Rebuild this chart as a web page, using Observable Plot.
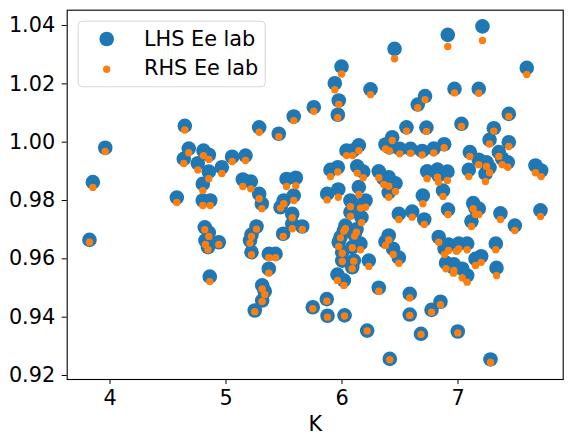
<!DOCTYPE html>
<html><head><meta charset="utf-8">
<script src="https://cdn.jsdelivr.net/npm/d3@7"></script>
<script src="https://cdn.jsdelivr.net/npm/@observablehq/plot@0.6"></script>
<style>
body{margin:0;background:#fff;}
#wrap{position:relative;width:572px;height:444px;font-family:"DejaVu Sans",sans-serif;}
</style></head><body><div id="wrap"></div>
<script>
const K=[3.852,3.823,3.959,4.645,4.576,4.679,4.636,4.806,4.852,4.757,
4.852,4.964,5.053,5.168,4.800,4.800,4.864,5.145,5.214,4.817,
4.823,4.852,4.938,4.845,5.286,5.220,5.207,5.220,5.263,5.455,
5.584,5.757,5.522,5.602,5.584,5.498,5.470,5.571,5.571,5.657,
5.286,5.309,5.493,5.369,5.427,5.369,4.860,5.312,5.334,5.312,
5.248,5.748,5.869,5.875,5.901,5.964,5.872,5.968,6.453,5.996,
5.938,6.246,5.972,5.964,6.716,6.653,6.556,6.728,6.433,6.375,
6.409,6.498,6.591,6.691,6.791,6.881,6.145,6.039,6.093,6.131,
6.183,6.317,6.403,6.360,6.461,6.403,6.734,6.823,6.832,6.909,
6.871,6.697,6.914,6.145,6.203,6.073,6.159,6.073,6.168,6.490,
6.605,6.709,6.030,6.016,5.987,6.108,6.125,6.159,5.972,6.088,
6.002,6.002,6.102,6.088,6.231,6.403,6.375,6.441,6.490,5.961,
6.016,6.317,6.584,6.022,6.217,6.584,6.681,6.412,6.772,6.849,
6.834,6.884,6.918,6.897,6.912,7.211,7.593,6.970,7.179,7.438,
7.030,7.309,7.272,7.438,7.102,7.352,7.179,7.246,7.381,7.429,
7.093,7.237,7.272,7.668,7.717,7.131,7.179,7.151,7.116,7.366,
7.490,7.711,7.007,6.987,7.079,7.326,7.151,7.200,6.964,6.961,
7.036,7.079,7.332,6.998,7.280];
const LHS=[0.9863,0.9665,0.9981,1.0056,0.9810,0.9978,0.9943,0.9971,0.9957,0.9928,
0.9899,0.9914,0.9950,0.9954,0.9857,0.9800,0.9800,0.9872,0.9865,0.9708,
0.9663,0.9690,0.9657,0.9640,1.0051,0.9683,0.9663,0.9623,0.9711,1.0029,
1.0088,1.0120,0.9874,0.9878,0.9817,0.9800,0.9777,0.9754,0.9720,0.9711,
0.9823,0.9789,0.9686,0.9617,0.9617,0.9566,0.9539,0.9509,0.9489,0.9457,
0.9423,0.9434,0.9462,0.9405,0.9905,0.9914,0.9823,0.9838,1.0320,1.0259,
1.0202,1.0181,1.0143,1.0094,1.0158,1.0129,1.0051,1.0050,1.0017,0.9992,
0.9982,0.9977,0.9977,0.9970,0.9978,0.9993,0.9989,0.9971,0.9971,0.9917,
0.9899,0.9900,0.9880,0.9875,0.9859,0.9828,0.9900,0.9906,0.9886,0.9899,
0.9834,0.9817,0.9769,0.9846,0.9800,0.9800,0.9783,0.9760,0.9742,0.9754,
0.9762,0.9735,0.9714,0.9697,0.9674,0.9683,0.9701,0.9652,0.9657,0.9640,
0.9623,0.9594,0.9594,0.9571,0.9594,0.9680,0.9659,0.9634,0.9604,0.9546,
0.9526,0.9501,0.9480,0.9406,0.9354,0.9409,0.9343,0.9257,0.9425,0.9453,
0.9675,0.9635,0.9649,0.9586,1.0368,1.0397,1.0255,1.0183,1.0183,1.0097,
1.0063,1.0048,1.0008,1.0000,0.9966,0.9966,0.9940,0.9931,0.9944,0.9931,
0.9905,0.9892,0.9913,0.9920,0.9903,0.9791,0.9772,0.9773,0.9729,0.9756,
0.9714,0.9766,0.9652,0.9646,0.9652,0.9652,0.9600,0.9609,0.9581,0.9570,
0.9566,0.9543,0.9569,0.9351,0.9255];
const RHS=[0.9845,0.9657,0.9968,1.0042,0.9793,0.9964,0.9927,0.9954,0.9941,0.9905,
0.9875,0.9893,0.9934,0.9937,0.9834,0.9783,0.9783,0.9848,0.9840,0.9700,
0.9649,0.9677,0.9649,0.9631,1.0034,0.9677,0.9654,0.9614,0.9702,1.0019,
1.0074,1.0106,0.9848,0.9851,0.9800,0.9789,0.9774,0.9741,0.9703,0.9701,
0.9806,0.9772,0.9677,0.9604,0.9604,0.9551,0.9522,0.9497,0.9478,0.9454,
0.9419,0.9429,0.9455,0.9400,0.9882,0.9898,0.9802,0.9811,1.0286,1.0234,
1.0180,1.0163,1.0129,1.0084,1.0146,1.0118,1.0038,1.0037,1.0006,0.9977,
0.9970,0.9960,0.9962,0.9956,0.9963,0.9981,0.9971,0.9954,0.9954,0.9894,
0.9878,0.9878,0.9849,0.9855,0.9831,0.9811,0.9875,0.9880,0.9863,0.9869,
0.9814,0.9789,0.9752,0.9821,0.9777,0.9779,0.9774,0.9745,0.9724,0.9735,
0.9743,0.9718,0.9703,0.9695,0.9672,0.9678,0.9691,0.9631,0.9642,0.9638,
0.9619,0.9591,0.9592,0.9566,0.9574,0.9665,0.9646,0.9615,0.9585,0.9526,
0.9509,0.9489,0.9466,0.9404,0.9353,0.9406,0.9341,0.9254,0.9417,0.9443,
0.9657,0.9615,0.9629,0.9566,1.0328,1.0349,1.0232,1.0169,1.0168,1.0088,
1.0054,1.0038,0.9994,0.9985,0.9951,0.9951,0.9923,0.9917,0.9923,0.9914,
0.9882,0.9865,0.9895,0.9895,0.9882,0.9772,0.9752,0.9752,0.9711,0.9735,
0.9697,0.9745,0.9634,0.9626,0.9631,0.9631,0.9577,0.9588,0.9560,0.9551,
0.9535,0.9520,0.9543,0.9346,0.9245];
const seriesNames=["LHS Ee lab","RHS Ee lab"];
const colors=["#1f77b4","#ff7f0e"];
const xTicks=[4,5,6,7];
const yTicks=[0.92,0.94,0.96,0.98,1.00,1.02,1.04];
const xLabel="K";

const rows=K.map((k,i)=>({K:k,L:LHS[i],R:RHS[i]}));
const chart=Plot.plot({
  width:572,height:444,
  marginLeft:66.7,marginRight:9.3,marginTop:9.7,marginBottom:65,
  style:{fontFamily:"DejaVu Sans",fontSize:"20.8px",color:"black",background:"white",overflow:"visible"},
  x:{domain:[3.631,7.907]},
  y:{domain:[0.91863,1.04525]},
  marks:[
    Plot.dot(rows,{x:"K",y:"L",r:7.3,fill:colors[0]}),
    Plot.dot(rows,{x:"K",y:"R",r:3.7,fill:colors[1]}),
    Plot.frame({stroke:"black",strokeWidth:1.1}),
    Plot.axisX({ticks:xTicks,tickSize:5,tickPadding:5.5,tickFormat:d=>String(d),label:xLabel,labelAnchor:"center",labelArrow:"none",labelOffset:51,fontSize:20.8}),
    Plot.axisY({ticks:yTicks,tickSize:5,tickPadding:7,tickFormat:d3.format(".2f"),label:null,fontSize:20.8})
  ]
});
const wrap=document.getElementById("wrap");
wrap.appendChild(chart);

const leg=d3.select(wrap).append("svg")
  .attr("width",572).attr("height",444)
  .style("position","absolute").style("left","0px").style("top","0px")
  .style("pointer-events","none");
leg.append("rect").attr("x",78.2).attr("y",21.2).attr("width",187).attr("height",65.6).attr("rx",4)
  .attr("fill","rgba(255,255,255,0.8)").attr("stroke","#d6d6d6").attr("stroke-width",1);
const ly=[39,69.3], lr=[7.3,3.7], tb=[45.5,75];
seriesNames.forEach((name,i)=>{
  leg.append("circle").attr("cx",106.7).attr("cy",ly[i]).attr("r",lr[i]).attr("fill",colors[i]);
  leg.append("text").attr("x",144).attr("y",tb[i]).attr("font-family","DejaVu Sans").attr("font-size",20.8).attr("fill","black").text(name);
});
</script></body></html>
